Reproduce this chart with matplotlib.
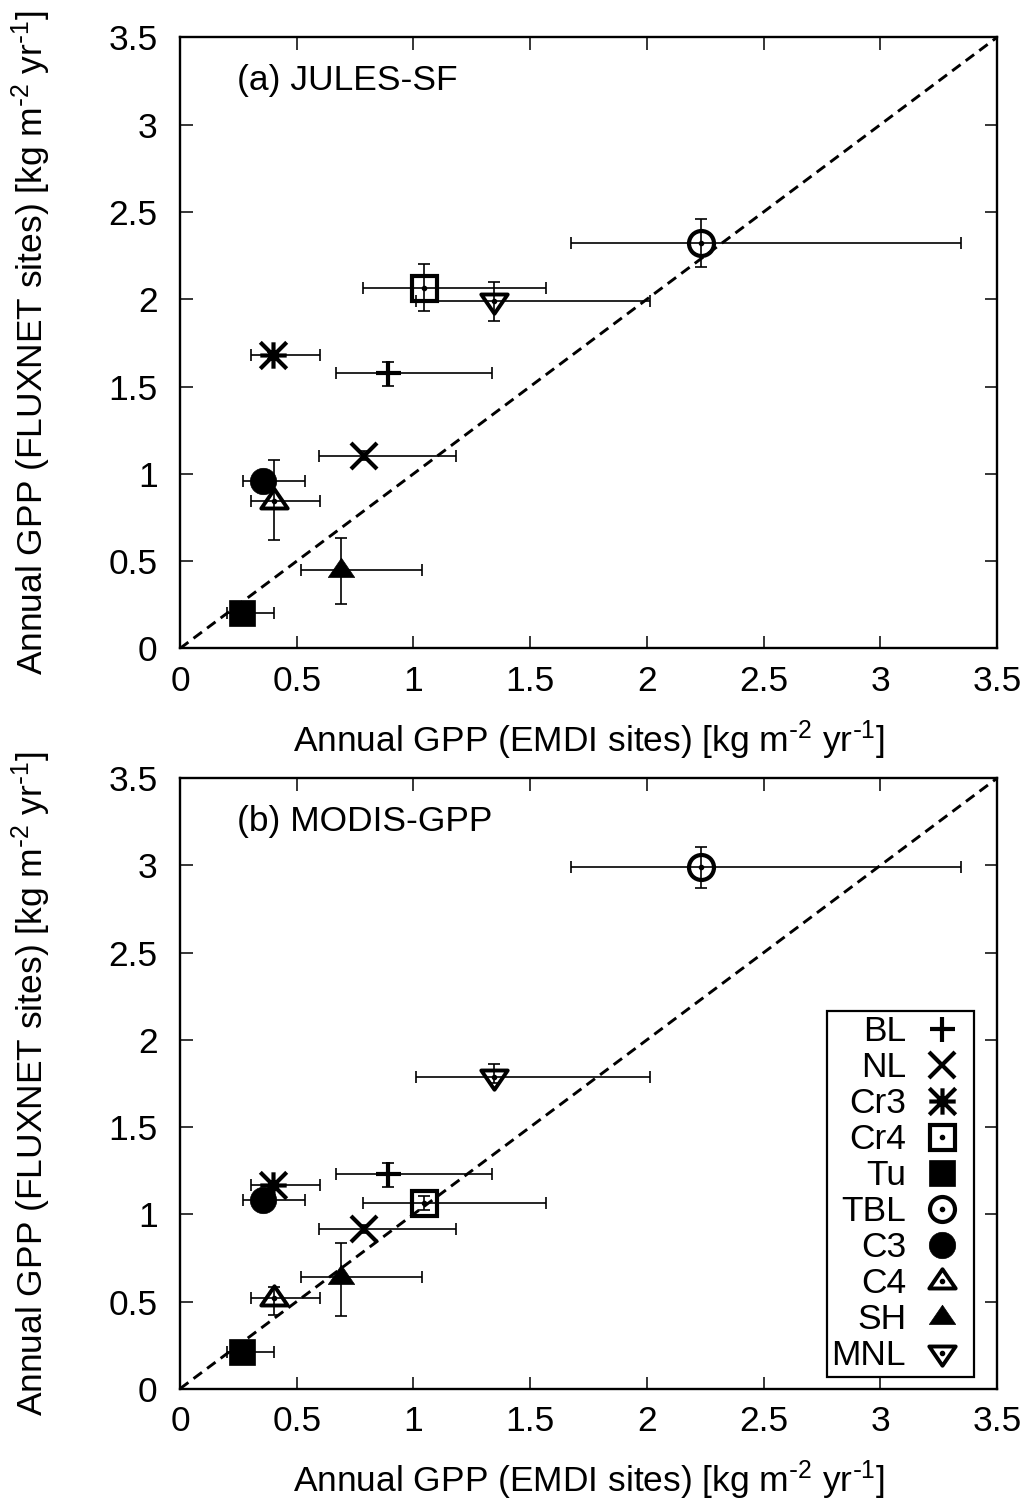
import numpy as np
import matplotlib
matplotlib.use("Agg")
import matplotlib.pyplot as plt
from matplotlib.path import Path
from matplotlib.legend_handler import HandlerTuple

# plant functional types
pft_names = ['BL', 'NL', 'Cr3', 'Cr4', 'Tu', 'TBL', 'C3', 'C4', 'SH', 'MNL']

# EMDI (x) mean and range
emdi_gpp = [0.89, 0.79, 0.40, 1.047, 0.267, 2.233, 0.357, 0.403, 0.69, 1.345]
emdi_lo = [0.669, 0.594, 0.303, 0.783, 0.20, 1.675, 0.268, 0.303, 0.517, 1.01]
emdi_hi = [1.336, 1.184, 0.60, 1.567, 0.403, 3.347, 0.536, 0.60, 1.036, 2.014]

# (a) JULES-SF at FLUXNET sites
jules_gpp = [1.575, 1.104, 1.68, 2.065, 0.201, 2.325, 0.96, 0.846, 0.449, 1.99]
jules_lo = [1.503, 1.08, 1.66, 1.93, 0.19, 2.185, 0.94, 0.621, 0.253, 1.875]
jules_hi = [1.642, 1.13, 1.70, 2.20, 0.21, 2.462, 0.98, 1.079, 0.634, 2.10]

# (b) MODIS-GPP at FLUXNET sites
modis_gpp = [1.229, 0.914, 1.168, 1.063, 0.209, 2.99, 1.082, 0.518, 0.642, 1.79]
modis_lo = [1.158, 0.89, 1.15, 1.024, 0.20, 2.873, 1.06, 0.423, 0.417, 1.75]
modis_hi = [1.296, 0.94, 1.19, 1.105, 0.22, 3.104, 1.10, 0.585, 0.834, 1.86]

tick_vals = [0, 0.5, 1, 1.5, 2, 2.5, 3, 3.5]
tick_labels = ['0', '0.5', '1', '1.5', '2', '2.5', '3', '3.5']
axis_max = 3.5

plt.rcParams['font.family'] = ['Liberation Sans', 'DejaVu Sans']
plt.rcParams['mathtext.default'] = 'regular'
plt.rcParams['font.size'] = 25.5

unit = r'[kg m$^{\text{-}2}$ yr$^{\text{-}1}$]'

# gnuplot-like point types
asterisk = Path([(-1, 0), (1, 0), (0, -1), (0, 1), (-1, -1), (1, 1), (-1, 1), (1, -1)],
                [Path.MOVETO, Path.LINETO] * 4)
tri_up = Path([(0, 0.93), (-1, -0.53), (1, -0.53), (0, 0.93)],
              [Path.MOVETO, Path.LINETO, Path.LINETO, Path.CLOSEPOLY])
tri_down = Path([(0, -0.93), (-1, 0.53), (1, 0.53), (0, -0.93)],
                [Path.MOVETO, Path.LINETO, Path.LINETO, Path.CLOSEPOLY])

# marker, filled, size, edge width, centre dot
styles = {
    'BL': ('+', False, 18, 3.0, False),
    'NL': ('x', False, 19, 3.0, False),
    'Cr3': (asterisk, False, 19, 3.0, False),
    'Cr4': ('s', False, 18, 3.0, True),
    'Tu': ('s', True, 19, 0, False),
    'TBL': ('o', False, 18, 3.0, True),
    'C3': ('o', True, 19, 0, False),
    'C4': (tri_up, False, 19, 2.8, True),
    'SH': (tri_up, True, 19, 0, False),
    'MNL': (tri_down, False, 19, 2.8, True),
}


def draw_panel(ax, yvals, ylo, yhi, title, show_legend):
    ax.plot([0, axis_max], [0, axis_max], color='k', lw=2.1,
            linestyle=(0, (3.6, 2.2)), zorder=1)
    handles = []
    for i, name in enumerate(pft_names):
        x, y = emdi_gpp[i], yvals[i]
        ax.errorbar([x], [y],
                    xerr=[[x - emdi_lo[i]], [emdi_hi[i] - x]],
                    yerr=[[y - ylo[i]], [yhi[i] - y]],
                    fmt='none', ecolor='k', elinewidth=1.2, capsize=4.3,
                    capthick=1.2, zorder=2)
        marker, filled, ms, mew, dot = styles[name]
        ln, = ax.plot([x], [y], linestyle='none', marker=marker, ms=ms,
                      mec='k', mfc='k' if filled else 'none',
                      mew=mew if mew else 0.5, zorder=3)
        h = [ln]
        if dot:
            d, = ax.plot([x], [y], linestyle='none', marker='o', ms=3,
                         color='k', zorder=4)
            h.append(d)
        handles.append(tuple(h))

    ax.set_xlim(0, axis_max)
    ax.set_ylim(0, axis_max)
    ax.set_xticks(tick_vals)
    ax.set_xticklabels(tick_labels)
    ax.set_yticks(tick_vals)
    ax.set_yticklabels(tick_labels)
    ax.tick_params(direction='in', length=9, width=1.1, top=True, right=True)
    ax.tick_params(axis='x', pad=12)
    ax.tick_params(axis='y', pad=16)
    for sp in ax.spines.values():
        sp.set_linewidth(1.7)

    ax.set_xlabel('Annual GPP (EMDI sites) ' + unit)
    ax.set_ylabel('Annual GPP (FLUXNET sites) ' + unit)
    ax.xaxis.set_label_coords(0.5, -0.114)
    ax.yaxis.set_label_coords(-0.155, 0.5)

    ax.text(0.07, 0.929, title, transform=ax.transAxes, ha='left', va='center')

    if show_legend:
        leg = ax.legend(handles, pft_names, loc='lower right',
                        bbox_to_anchor=(0.972, 0.02), borderaxespad=0,
                        markerfirst=False, handlelength=1.6, handletextpad=0.2,
                        labelspacing=0.085, borderpad=0.12, fancybox=False,
                        framealpha=1, edgecolor='k',
                        handler_map={tuple: HandlerTuple(ndivide=1, pad=0)})
        leg.get_frame().set_linewidth(1.6)


fig = plt.figure(figsize=(10.29, 15.01), dpi=100)
ax_a = fig.add_axes([0.1749, 0.5680, 0.794, 0.4071])
ax_b = fig.add_axes([0.1749, 0.0748, 0.794, 0.4067])

draw_panel(ax_a, jules_gpp, jules_lo, jules_hi, '(a) JULES-SF', False)
draw_panel(ax_b, modis_gpp, modis_lo, modis_hi, '(b) MODIS-GPP', True)

fig.savefig('out.png', dpi=100)
